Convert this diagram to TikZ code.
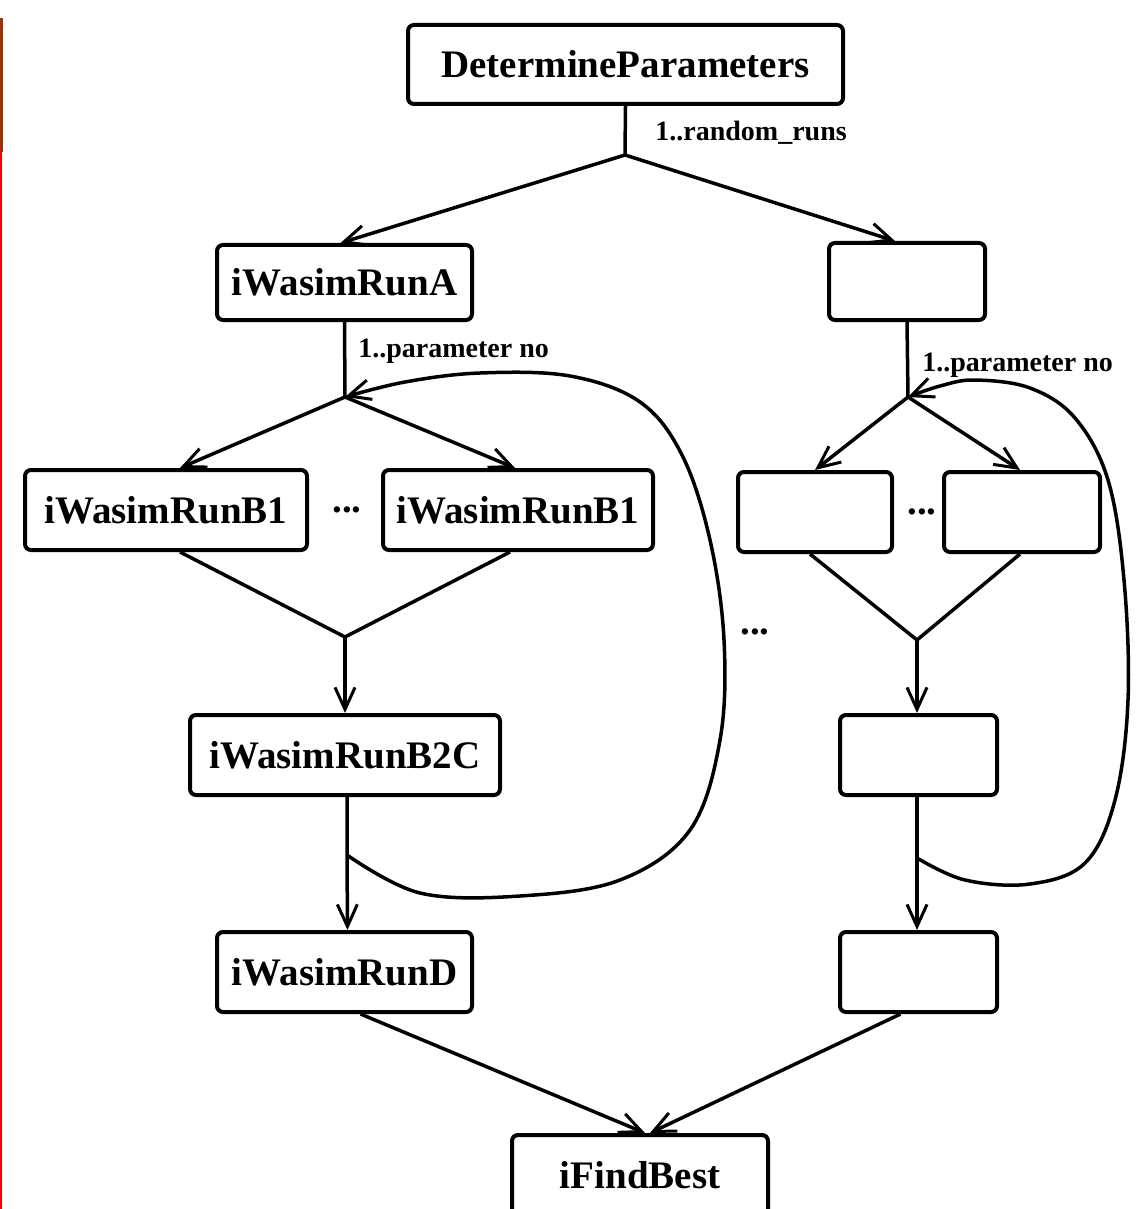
\documentclass[tikz,border=0pt]{standalone}
\usepackage{fontspec}
\setmainfont{Liberation Serif}
\usetikzlibrary{arrows.meta}
\begin{document}
\begin{tikzpicture}[x=0.5pt,y=-0.5pt,
  box/.style={draw, line width=2pt, rounded corners=3pt, inner sep=0pt,
    font=\bfseries\fontsize{19.5}{22}\selectfont},
  lab/.style={anchor=west, inner sep=0pt, font=\bfseries\fontsize{14}{16}\selectfont},
  dots/.style={inner sep=0pt, font=\bfseries\fontsize{19.5}{22}\selectfont},
  ln/.style={line width=1.75pt},
  arr/.style={line width=1.75pt, -{Straight Barb[length=11pt,width=10pt,line width=1.5pt]}}]
\useasboundingbox (0,0) rectangle (1135,1209);
\clip (0,0) rectangle (1135,1209);
% left edge marks
\fill[fill={rgb,255:red,160;green,50;blue,10}] (0,18) rectangle (3,152);
\fill[red] (0,152) rectangle (2,1209);

% nodes
\node[box, minimum width=217.5pt, minimum height=39.5pt] (dp) at (625.5,64.5) {DetermineParameters};
\coordinate (fork0) at (625,155);
\node[box, minimum width=127.5pt, minimum height=37.5pt] (wa) at (344.5,282.5) {iWasimRunA};
\node[box, minimum width=78pt, minimum height=38.5pt] (ra) at (907,281.5) {};
\coordinate (forkL) at (345,397);
\coordinate (forkR) at (908,397);
\node[box, minimum width=141pt, minimum height=40pt] (b1l) at (166,510) {iWasimRunB1};
\node[dots] (dl) at (347,510) {...};
\node[box, minimum width=135pt, minimum height=40pt] (b1r) at (518,510) {iWasimRunB1};
\node[box, minimum width=77pt, minimum height=40pt] (rb1l) at (815,512) {};
\node[dots] (dr) at (922,512) {...};
\node[box, minimum width=78pt, minimum height=40pt] (rb1r) at (1022,512) {};
\coordinate (joinL) at (345,637);
\coordinate (joinR) at (917,640);
\node[dots] (dm) at (755,632) {...};
\node[box, minimum width=155pt, minimum height=40pt] (b2c) at (345,755) {iWasimRunB2C};
\node[box, minimum width=78.5pt, minimum height=40pt] (rb2c) at (918.5,755) {};
\coordinate (loopL) at (347,855);
\coordinate (loopR) at (917,858);
\node[box, minimum width=127.5pt, minimum height=40pt] (d) at (344.5,972) {iWasimRunD};
\node[box, minimum width=78.5pt, minimum height=40pt] (rd) at (918.5,972) {};
\node[box, minimum width=128pt, minimum height=40pt] (fb) at (640,1175) {iFindBest};

% labels
\node[lab] (l0) at (655,133) {1..random\_runs};
\node[lab] (l1) at (358,351) {1..parameter no};
\node[lab] (l2) at (922,365) {1..parameter no};

% top fork
\draw[ln] (dp.south) -- (fork0);
\draw[arr] (fork0) -- ([xshift=-2pt]wa.north);
\draw[arr] (fork0) -- ([xshift=-6pt]ra.north);

% left branch
\draw[ln] (wa.south) -- (forkL);
\draw[arr] (forkL) -- ([xshift=7pt]b1l.north);
\draw[arr] (forkL) -- ([xshift=-1.5pt]b1r.north);
\draw[ln] ([xshift=7pt]b1l.south) -- (joinL) -- ([xshift=-4pt]b1r.south);
\draw[arr] (joinL) -- (b2c.north);
\draw[arr] ([xshift=1pt]b2c.south) -- (loopL) -- ([xshift=1.5pt]d.north);
\draw[arr] plot[smooth, tension=0.6] coordinates {(loopL) (420,893) (520,896) (620,880) (690,830) (720,740) (724,640) (710,540) (682,455) (640,402) (570,376) (480,373) (405,382) (forkL)};

% right branch
\draw[ln] (ra.south) -- (forkR);
\draw[arr] (forkR) -- (rb1l.north);
\draw[arr] (forkR) -- ([xshift=-1pt]rb1r.north);
\draw[ln] ([xshift=-2.5pt]rb1l.south) -- (joinR) -- ([xshift=-1pt]rb1r.south);
\draw[arr] (joinR) -- ([xshift=-0.75pt]rb2c.north);
\draw[arr] ([xshift=-0.75pt]rb2c.south) -- (loopR) -- ([xshift=-0.75pt]rd.north);
\draw[arr] plot[smooth, tension=0.6] coordinates {(loopR) (965,880) (1030,884) (1085,863) (1115,800) (1128,700) (1124,580) (1108,480) (1075,418) (1030,388) (975,380) (940,386) (forkR)};

% to iFindBest
\draw[arr] ([xshift=8pt]d.south) -- ([xshift=2.5pt]fb.north);
\draw[arr] ([xshift=-9pt]rd.south) -- ([xshift=5pt]fb.north);
\end{tikzpicture}
\end{document}
